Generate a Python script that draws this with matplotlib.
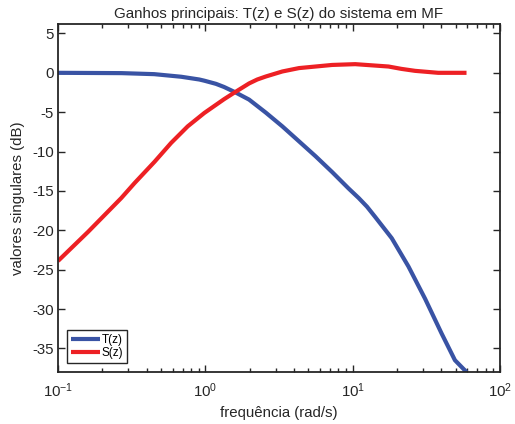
import matplotlib
matplotlib.use('Agg')
import matplotlib.pyplot as plt
from matplotlib.ticker import LogLocator

plt.rcParams['font.family'] = ['Liberation Sans', 'DejaVu Sans']
plt.rcParams['mathtext.fontset'] = 'custom'
plt.rcParams['mathtext.rm'] = 'Liberation Sans'
plt.rcParams['mathtext.default'] = 'regular'
plt.rcParams['axes.unicode_minus'] = False

# valores (rad/s, dB)
freq_T = [0.1, 0.27, 0.45, 0.686, 0.91, 0.984, 1.18, 1.34, 1.59, 1.98, 2.57, 3.33,
          4.32, 5.6, 7.25, 9.39, 10.98, 12.5, 14.2, 18.4, 23.9, 31.0, 40.1, 49.4, 59.2]
ganho_T = [0.0, -0.04, -0.17, -0.5, -0.85, -1.0, -1.4, -1.8, -2.46, -3.4, -5.05, -6.8,
           -8.7, -10.6, -12.6, -14.7, -15.9, -17.0, -18.3, -21.0, -24.6, -28.7, -33.1,
           -36.5, -38.0]

freq_S = [0.1, 0.16, 0.269, 0.331, 0.452, 0.586, 0.759, 0.984, 1.18, 1.34, 1.59,
          1.98, 2.25, 2.57, 3.33, 4.32, 7.25, 10.4, 17.5, 21.4, 26.5, 38.0, 59.2]
ganho_S = [-23.9, -20.2, -15.9, -14.0, -11.3, -8.9, -6.8, -5.1, -4.07, -3.35, -2.46,
           -1.35, -0.85, -0.47, 0.17, 0.6, 1.0, 1.1, 0.8, 0.5, 0.25, 0.0, 0.0]

cor_T = '#3953a4'
cor_S = '#ed2024'
cinza = '#262626'

fig = plt.figure(figsize=(5.15, 4.24), dpi=100)
ax = fig.add_axes([0.1126, 0.1226, 0.8584, 0.8208])

ax.semilogx(freq_T, ganho_T, color=cor_T, lw=3.0, label='T(z)', solid_capstyle='butt')
ax.semilogx(freq_S, ganho_S, color=cor_S, lw=3.0, label='S(z)', solid_capstyle='butt')

ax.set_xlim(0.1, 100)
ax.set_ylim(-38.0, 6.2)
ax.set_yticks(range(-35, 10, 5))
ax.xaxis.set_major_locator(LogLocator(base=10, numticks=10))
ax.xaxis.set_minor_locator(LogLocator(base=10, subs=range(2, 10), numticks=10))

for s in ax.spines.values():
    s.set_linewidth(1.3)
    s.set_color(cinza)
ax.tick_params(which='both', direction='in', top=True, right=True,
               colors=cinza, labelsize=10.8, width=1.0)
ax.tick_params(which='major', length=5)
ax.tick_params(which='minor', length=3)
ax.tick_params(axis='x', which='major', pad=7)
ax.tick_params(axis='y', which='major', pad=3)

ax.set_title('Ganhos principais: T(z) e S(z) do sistema em MF', fontsize=10.9,
             color=cinza, pad=4)
ax.set_xlabel('frequência (rad/s)', fontsize=10.8, color=cinza)
ax.set_ylabel('valores singulares (dB)', fontsize=10.8, color=cinza, labelpad=5)

leg = ax.legend(loc='lower left', fontsize=8.5, handlelength=2.5, handletextpad=0.1,
                borderpad=0.3, labelspacing=0.1, fancybox=False, framealpha=1,
                borderaxespad=0.8)
leg.get_frame().set_edgecolor(cinza)
leg.get_frame().set_linewidth(1.0)

fig.savefig('out.png', dpi=100)
